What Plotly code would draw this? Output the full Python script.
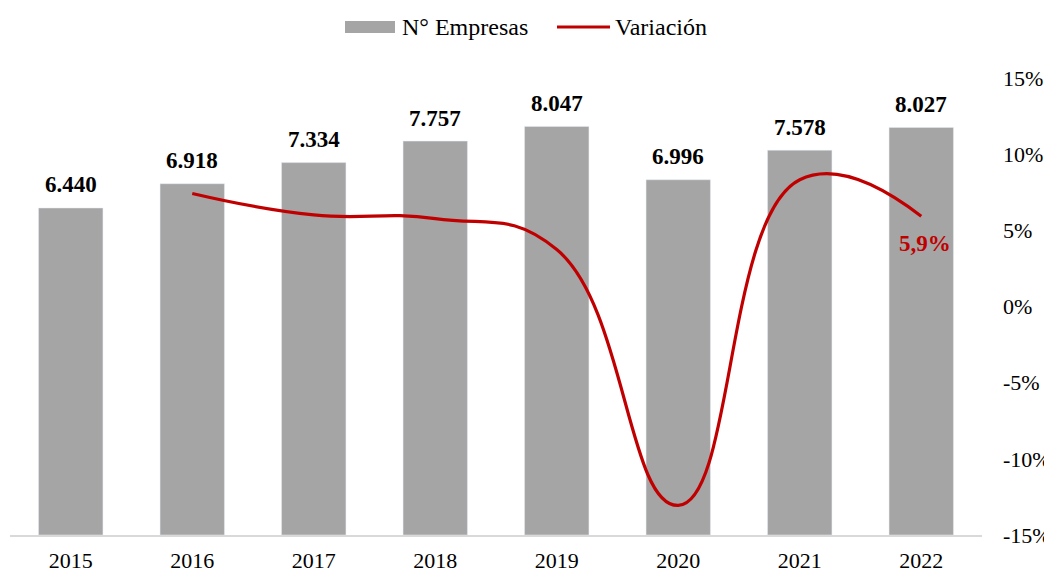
import plotly.graph_objects as go

years = ["2015", "2016", "2017", "2018", "2019", "2020", "2021", "2022"]
empresas = [6440, 6918, 7334, 7757, 8047, 6996, 7578, 8027]
variacion = [None, 0.0742, 0.0601, 0.0577, 0.0374, -0.1306, 0.0832, 0.0593]
pct_ticks = [-0.15, -0.10, -0.05, 0.0, 0.05, 0.10, 0.15]
pct_labels = ["-15%", "-10%", "-5%", "0%", "5%", "10%", "15%"]

FONT = "Liberation Serif, Times New Roman, serif"
BAR = "#a5a5a5"
RED = "#c00000"

# page body has an 8px margin; lay out in window pixels minus that offset
OFF = 8
W, H = 1052 - OFF, 574 - OFF
ml, mt = 10 - OFF, 78 - OFF
mr = W - (982 - OFF)
mb = H - (535 - OFF)
pw, ph = W - ml - mr, H - mt - mb


def px(x):
    return (x - OFF - ml) / pw


def py(y):
    return (H - mb - (y - OFF)) / ph


fig = go.Figure()
fig.add_trace(go.Bar(x=years, y=empresas, marker_color=BAR, name="N° Empresas",
                     showlegend=False, yaxis="y"))
fig.add_trace(go.Scatter(x=years, y=variacion, mode="lines", name="Variación",
                         line=dict(color=RED, width=3.2, shape="spline", smoothing=1.3),
                         showlegend=False, yaxis="y2"))

annotations = []
for i, v in enumerate(empresas):
    annotations.append(dict(x=i, y=v, xref="x", yref="y", text=f"<b>{v:,.0f}</b>".replace(",", "."),
                            showarrow=False, yanchor="middle", yshift=23,
                            font=dict(family=FONT, size=23, color="black")))
last = variacion[-1]
annotations.append(dict(x=len(years) - 1, y=last, xref="x", yref="y2",
                        text="<b>" + f"{last*100:.1f}".replace(".", ",") + "%</b>",
                        showarrow=False, yanchor="middle", yshift=-27, xshift=4,
                        font=dict(family=FONT, size=23, color=RED)))

shapes = [
    dict(type="rect", xref="paper", yref="paper", x0=px(345), x1=px(395), y0=py(33), y1=py(21),
         fillcolor=BAR, line=dict(width=0)),
    dict(type="line", xref="paper", yref="paper", x0=px(557), x1=px(610), y0=py(27), y1=py(27),
         line=dict(color=RED, width=3.2)),
]
annotations.append(dict(x=px(400), y=py(27), xref="paper", yref="paper", text="N° Empresas",
                        showarrow=False, xanchor="left", yanchor="middle",
                        font=dict(family=FONT, size=24, color="black")))
annotations.append(dict(x=px(613), y=py(27), xref="paper", yref="paper", text="Variación",
                        showarrow=False, xanchor="left", yanchor="middle",
                        font=dict(family=FONT, size=24, color="black")))

fig.update_layout(
    width=W, height=H,
    margin=dict(l=ml, r=mr, t=mt, b=mb, autoexpand=False),
    plot_bgcolor="white", paper_bgcolor="white",
    bargap=0.47,
    showlegend=False,
    font=dict(family=FONT, size=22, color="black"),
    xaxis=dict(type="category", showline=True, linecolor="#d9d9d9", linewidth=1.5,
               ticks="", showgrid=False, ticklabelstandoff=5, range=[-0.5, 7.5],
               tickfont=dict(family=FONT, size=22, color="black")),
    yaxis=dict(range=[0, 9000], visible=False, showgrid=False),
    yaxis2=dict(overlaying="y", side="right", range=[-0.15, 0.15], tickvals=pct_ticks,
                ticktext=pct_labels, showgrid=False, zeroline=False, showline=False,
                ticks="", ticklabelstandoff=20,
                tickfont=dict(family=FONT, size=22, color="black")),
    annotations=annotations,
    shapes=shapes,
)

fig.write_html("out.html")
